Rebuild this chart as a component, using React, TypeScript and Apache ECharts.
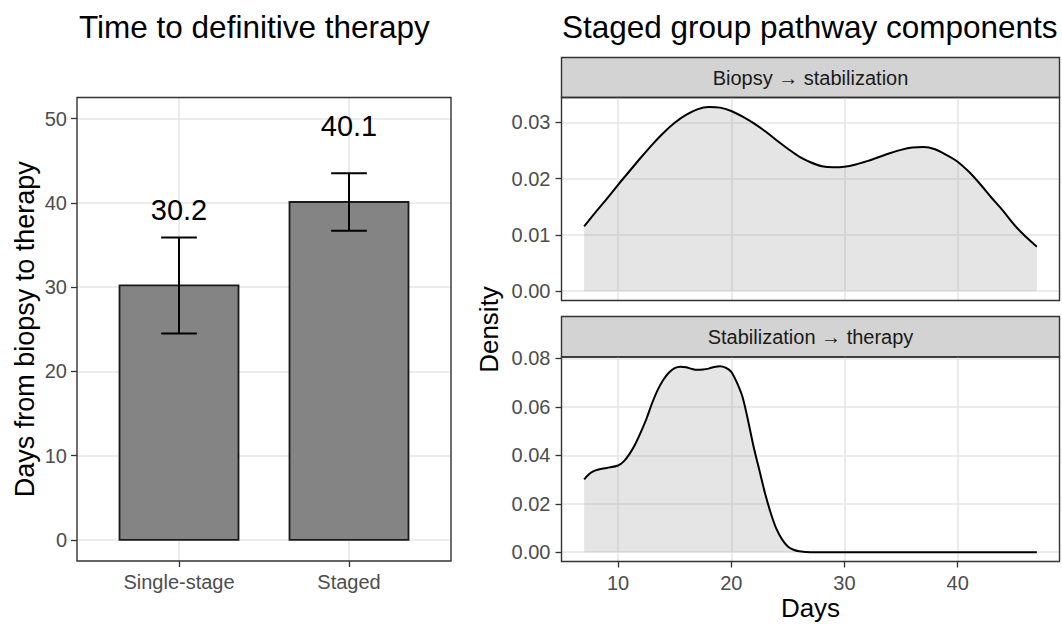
import React, { useEffect, useRef } from "react";
import * as echarts from "echarts";

// ---------- data ----------
const groups = ["Single-stage", "Staged"];
const meanDays = [30.2, 40.1];
const ciLower = [24.5, 36.7];
const ciUpper = [35.9, 43.5];
const barTicks = [0, 10, 20, 30, 40, 50];

const biopsyDays = [7, 8, 9, 10, 11, 12, 13, 14, 15, 16, 17, 18, 19, 20, 21, 22, 23, 24, 25, 26, 27, 28, 29, 30, 31, 32, 33, 34, 35, 36, 37, 38, 39, 40, 41, 42, 43, 44, 45, 46, 47];
const biopsyDensity = [0.0115, 0.014, 0.0164, 0.0189, 0.0213, 0.0237, 0.026, 0.0281, 0.0299, 0.0313, 0.0323, 0.0327, 0.0326, 0.032, 0.031, 0.0298, 0.0284, 0.0268, 0.0253, 0.0239, 0.0229, 0.0222, 0.022, 0.0221, 0.0225, 0.0231, 0.0238, 0.0245, 0.0251, 0.0255, 0.0256, 0.0252, 0.0242, 0.023, 0.0212, 0.019, 0.0166, 0.0143, 0.0118, 0.0097, 0.0079];

const stabDays = [7, 7.5, 8, 9, 10, 10.5, 11, 11.5, 12, 12.5, 13, 13.5, 14, 14.5, 15, 15.5, 16, 16.5, 17, 17.5, 18, 18.5, 19, 19.5, 20, 20.5, 21, 21.5, 22, 22.5, 23, 23.5, 24, 24.5, 25, 25.5, 26, 27, 30, 35, 40, 45, 47];
const stabDensity = [0.0301, 0.0325, 0.0338, 0.0348, 0.0358, 0.0375, 0.0405, 0.0445, 0.0495, 0.055, 0.0615, 0.067, 0.0712, 0.0742, 0.076, 0.0766, 0.0764, 0.0757, 0.0753, 0.0754, 0.0758, 0.0765, 0.0768, 0.0762, 0.0745, 0.07, 0.064, 0.054, 0.043, 0.0335, 0.024, 0.016, 0.0095, 0.0052, 0.0024, 0.001, 0.0004, 0, 0, 0, 0, 0, 0];

const dayTicks = [10, 20, 30, 40];
const densTicksTop = [0, 0.01, 0.02, 0.03];
const densTicksBottom = [0, 0.02, 0.04, 0.06, 0.08];

const stripLabels = ["Biopsy \u2192 stabilization", "Stabilization \u2192 therapy"];
const plotTitles = ["Time to definitive therapy", "Staged group pathway components"];
const axisTitles = ["Days from biopsy to therapy", "Density", "Days"];

// ---------- layout ----------
const FONT = "'Liberation Sans', Arial, Helvetica, sans-serif";
const GL = { left: 77, top: 97.5, width: 374, height: 463.5 };
const GT = { left: 561.5, top: 97.5, width: 498, height: 203 };
const GB = { left: 561.5, top: 357, width: 498, height: 204.5 };
const STRIP_T = { y: 57.5, h: 40 };
const STRIP_B = { y: 316.5, h: 40.5 };

const TICK_COLOR = "#333333";
const LABEL_COLOR = "#4d4d4d";
const GRID_COLOR = "#e6e6e6";
const AXIS_FONT = 20;

function valueAxis(gridIndex: number, min: number, max: number, ticks: number[], opts: any = {}) {
  return {
    type: "value",
    gridIndex,
    min,
    max,
    axisLine: { show: false, onZero: false },
    axisTick: {
      show: opts.showTicks !== false,
      customValues: ticks,
      length: 6,
      lineStyle: { color: TICK_COLOR, width: 1.3 },
    },
    axisLabel: {
      show: opts.showLabels !== false,
      customValues: ticks,
      color: LABEL_COLOR,
      fontSize: AXIS_FONT,
      fontFamily: FONT,
      margin: opts.margin ?? 11,
      formatter: opts.formatter,
    },
    splitLine: { show: true, lineStyle: { color: GRID_COLOR, width: 1.6 } },
  };
}

export default function App() {
  const ref = useRef<HTMLDivElement>(null);

  useEffect(() => {
    if (!ref.current) return;
    const chart = echarts.init(ref.current, undefined, { renderer: "svg" });

    const barData = groups.map((g, i) => [i + 1, meanDays[i], ciLower[i], ciUpper[i]]);

    const option: any = {
      animation: false,
      backgroundColor: "#ffffff",
      textStyle: { fontFamily: FONT },
      grid: [
        { ...GL, containLabel: false },
        { ...GT, containLabel: false },
        { ...GB, containLabel: false },
      ],
      xAxis: [
        valueAxis(0, 0.4, 2.6, [1, 2], {
          formatter: (v: number) => groups[Math.round(v) - 1] ?? "",
          margin: 11,
        }),
        valueAxis(1, 5, 49, dayTicks, { showTicks: false, showLabels: false }),
        valueAxis(2, 5, 49, dayTicks, { margin: 11 }),
      ],
      yAxis: [
        valueAxis(0, -2.5, 52.5, barTicks, { margin: 10 }),
        valueAxis(1, -0.00165, 0.0344, densTicksTop, { formatter: (v: number) => v.toFixed(2), margin: 11 }),
        valueAxis(2, -0.00384, 0.0806, densTicksBottom, { formatter: (v: number) => v.toFixed(2), margin: 11 }),
      ],
      series: [
        {
          type: "custom",
          xAxisIndex: 0,
          yAxisIndex: 0,
          data: barData,
          z: 5,
          renderItem: (params: any, api: any) => {
            const x = api.value(0);
            const m = api.value(1);
            const lo = api.value(2);
            const hi = api.value(3);
            const pTL = api.coord([x - 0.35, m]);
            const pBR = api.coord([x + 0.35, 0]);
            const eLo = api.coord([x, lo]);
            const eHi = api.coord([x, hi]);
            const cL = api.coord([x - 0.105, lo])[0];
            const cR = api.coord([x + 0.105, lo])[0];
            const lab = api.coord([x, m + 9]);
            return {
              type: "group",
              children: [
                {
                  type: "rect",
                  shape: { x: pTL[0], y: pTL[1], width: pBR[0] - pTL[0], height: pBR[1] - pTL[1] },
                  style: { fill: "#848484", stroke: "#1a1a1a", lineWidth: 1.8 },
                },
                {
                  type: "line",
                  shape: { x1: eLo[0], y1: eLo[1], x2: eHi[0], y2: eHi[1] },
                  style: { stroke: "#000000", lineWidth: 2 },
                },
                {
                  type: "line",
                  shape: { x1: cL, y1: eLo[1], x2: cR, y2: eLo[1] },
                  style: { stroke: "#000000", lineWidth: 2 },
                },
                {
                  type: "line",
                  shape: { x1: cL, y1: eHi[1], x2: cR, y2: eHi[1] },
                  style: { stroke: "#000000", lineWidth: 2 },
                },
                {
                  type: "text",
                  x: lab[0],
                  y: lab[1],
                  style: {
                    text: m.toFixed(1),
                    fill: "#000000",
                    fontSize: 29,
                    fontFamily: FONT,
                    align: "center",
                    verticalAlign: "middle",
                  },
                },
              ],
            };
          },
        },
        {
          type: "line",
          xAxisIndex: 1,
          yAxisIndex: 1,
          data: biopsyDays.map((d, i) => [d, biopsyDensity[i]]),
          showSymbol: false,
          smooth: 0.3,
          lineStyle: { color: "#000000", width: 2 },
          areaStyle: { color: "rgba(128,128,128,0.29)", origin: "auto" },
          z: 5,
        },
        {
          type: "line",
          xAxisIndex: 2,
          yAxisIndex: 2,
          data: stabDays.map((d, i) => [d, stabDensity[i]]),
          showSymbol: false,
          smooth: 0.3,
          lineStyle: { color: "#000000", width: 2 },
          areaStyle: { color: "rgba(128,128,128,0.29)", origin: "auto" },
          z: 5,
        },
      ],
      graphic: [
        // panel frames
        ...[GL, GT, GB].map((g) => ({
          type: "rect",
          z: 100,
          silent: true,
          shape: { x: g.left, y: g.top, width: g.width, height: g.height },
          style: { fill: "none", stroke: "#333333", lineWidth: 1.4 },
        })),
        // strips
        ...[STRIP_T, STRIP_B].map((s, i) => ({
          type: "group",
          z: 101,
          children: [
            {
              type: "rect",
              shape: { x: GT.left, y: s.y, width: GT.width, height: s.h },
              style: { fill: "#d3d3d3", stroke: "#333333", lineWidth: 1.4 },
            },
            {
              type: "text",
              x: GT.left + GT.width / 2,
              y: s.y + s.h / 2,
              style: {
                text: stripLabels[i],
                fill: "#1a1a1a",
                fontSize: 20,
                fontFamily: FONT,
                align: "center",
                verticalAlign: "middle",
              },
            },
          ],
        })),
        // plot titles
        {
          type: "text",
          x: 79,
          y: 27,
          style: { text: plotTitles[0], fill: "#000000", fontSize: 31.5, fontFamily: FONT, align: "left", verticalAlign: "middle" },
        },
        {
          type: "text",
          x: 562,
          y: 27,
          style: { text: plotTitles[1], fill: "#000000", fontSize: 31.5, fontFamily: FONT, align: "left", verticalAlign: "middle" },
        },
        // axis titles
        {
          type: "text",
          x: 25,
          y: GL.top + GL.height / 2,
          rotation: Math.PI / 2,
          style: { text: axisTitles[0], fill: "#000000", fontSize: 27, fontFamily: FONT, align: "center", verticalAlign: "middle" },
        },
        {
          type: "text",
          x: 489,
          y: (GT.top + GB.top + GB.height) / 2,
          rotation: Math.PI / 2,
          style: { text: axisTitles[1], fill: "#000000", fontSize: 26, fontFamily: FONT, align: "center", verticalAlign: "middle" },
        },
        {
          type: "text",
          x: GB.left + GB.width / 2,
          y: 608,
          style: { text: axisTitles[2], fill: "#000000", fontSize: 26, fontFamily: FONT, align: "center", verticalAlign: "middle" },
        },
      ],
    };

    chart.setOption(option);
    return () => chart.dispose();
  }, []);

  return (
    <div
      ref={ref}
      style={{ position: "fixed", left: 0, top: 0, width: 1062, height: 624, background: "#ffffff" }}
    />
  );
}
